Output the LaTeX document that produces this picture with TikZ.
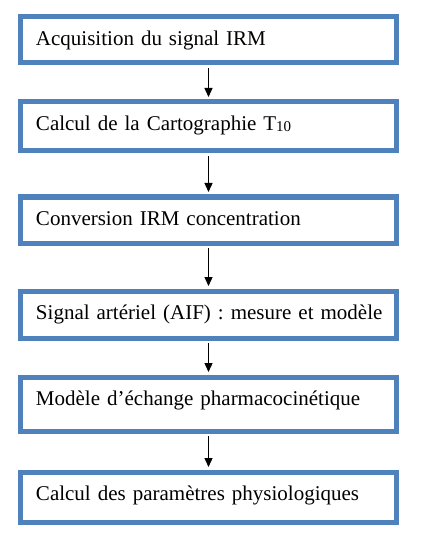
\documentclass[tikz,border=0pt]{standalone}
\usepackage{fontspec}
\setmainfont{Liberation Serif}
\usetikzlibrary{arrows.meta}
\definecolor{boxblue}{RGB}{79,129,189}
\tikzset{
  stepbox/.style={draw=boxblue, line width=5bp, fill=white, anchor=north,
    text width=345bp, align=left, inner xsep=15.5bp, inner ysep=0pt,
    text height=28.5bp, font=\fontsize{21bp}{24bp}\selectfont},
  flow/.style={draw=black, line width=1.3bp, -{Triangle[length=9bp,width=8bp]},
    shorten <=2.5bp, shorten >=2.5bp}
}
\begin{document}
\begin{tikzpicture}[x=1bp,y=-1bp]
\useasboundingbox (0,0) rectangle (421,534);
\node[stepbox, text depth=17.5bp] (b1) at (208.5,14.5) {\mbox{Acquisition du signal IRM}};
\node[stepbox, text depth=20.5bp] (b2) at (208.5,99.5) {\mbox{Calcul de la Cartographie T\raisebox{-1.5bp}{\fontsize{15bp}{15bp}\selectfont 10}}};
\node[stepbox, text depth=17.5bp] (b3) at (208.5,194.5) {\mbox{Conversion IRM concentration}};
\node[stepbox, text depth=18.5bp] (b4) at (208.5,288.5) {\mbox{Signal artériel (AIF) : mesure et modèle}};
\node[stepbox, text depth=25.5bp] (b5) at (208.5,374.5) {\mbox{Modèle d’échange pharmacocinétique}};
\node[stepbox, text depth=21.5bp] (b6) at (208.5,469.5) {\mbox{Calcul des paramètres physiologiques}};
\draw[flow] (b1.south) -- (b2.north);
\draw[flow] (b2.south) -- (b3.north);
\draw[flow] (b3.south) -- (b4.north);
\draw[flow] (b4.south) -- (b5.north);
\draw[flow] (b5.south) -- (b6.north);
\end{tikzpicture}
\end{document}
